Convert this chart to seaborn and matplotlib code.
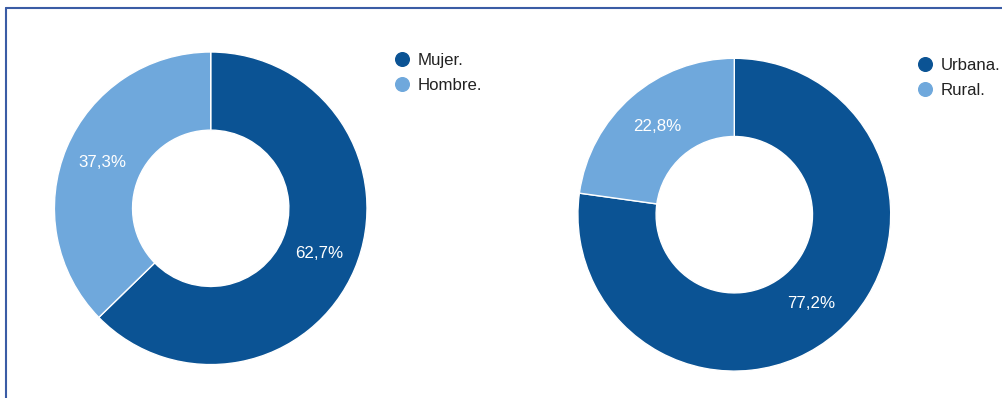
import matplotlib
matplotlib.use("Agg")
import matplotlib.pyplot as plt
from matplotlib.lines import Line2D
import seaborn as sns

# Data
sexo_labels = ["Mujer.", "Hombre."]
sexo_values = [62.7, 37.3]
zona_labels = ["Urbana.", "Rural."]
zona_values = [77.2, 22.8]

sns.set_theme(style="white")
plt.rcParams["font.family"] = ["Liberation Sans", "DejaVu Sans"]

palette = sns.color_palette(["#0b5394", "#6fa8dc"])

W, H = 1003, 398
DPI = 100
fig = plt.figure(figsize=(W / DPI, H / DPI), dpi=DPI)
fig.patch.set_facecolor("white")


def px_axes(cx, cy, r):
    """Square axes of radius r (pixels) centred at (cx, cy), y measured from top."""
    return fig.add_axes([(cx - r) / W, 1 - (cy + r) / H, 2 * r / W, 2 * r / H])


def fmt_pct(p):
    return f"{p:.1f}%".replace(".", ",")


def donut(ax, values, labels, legend_xy):
    wedges, _, autotexts = ax.pie(
        values,
        colors=palette,
        startangle=90,
        counterclock=False,
        radius=1.0,
        autopct=fmt_pct,
        pctdistance=0.75,
        wedgeprops=dict(width=0.5, edgecolor="white", linewidth=1.0),
        textprops=dict(color="white", fontsize=12.2),
    )
    ax.set_xlim(-1, 1)
    ax.set_ylim(-1, 1)
    ax.set_aspect("equal")
    ax.axis("off")

    handles = [
        Line2D([0], [0], marker="o", linestyle="none", markersize=9.8,
               markerfacecolor=c, markeredgecolor=c)
        for c in palette
    ]
    lx, ly = legend_xy
    fig.legend(
        handles, labels,
        loc="upper left",
        bbox_to_anchor=(lx / W, 1 - ly / H),
        bbox_transform=fig.transFigure,
        frameon=False,
        borderpad=0,
        borderaxespad=0,
        handlelength=0.8,
        handletextpad=0.55,
        labelspacing=0.6,
        fontsize=12.1,
        labelcolor="#222222",
    )


ax1 = px_axes(210.7, 208.3, 156.3)
donut(ax1, sexo_values, sexo_labels, (395.3, 52.5))

ax2 = px_axes(734.3, 214.7, 156.4)
donut(ax2, zona_values, zona_labels, (918.3, 57.5))

# Frame lines along the top and left edges
border = "#3a5ca5"
fig.add_artist(Line2D([6.5 / W, 6.5 / W], [1 - 7.5 / H, 0], transform=fig.transFigure,
                      color=border, linewidth=1.5))
fig.add_artist(Line2D([5.8 / W, 1], [1 - 7.5 / H, 1 - 7.5 / H], transform=fig.transFigure,
                      color=border, linewidth=1.5))

fig.savefig("out.png", dpi=DPI, facecolor="white")
